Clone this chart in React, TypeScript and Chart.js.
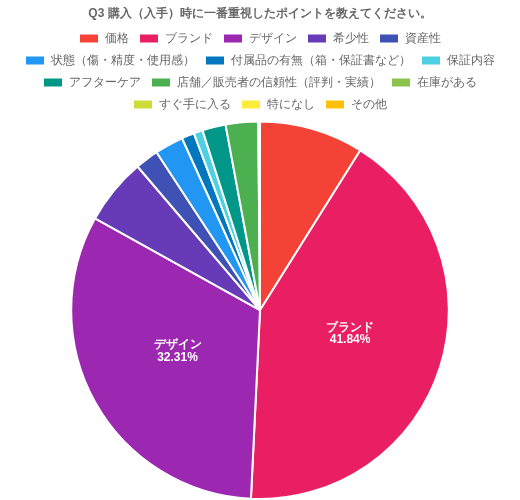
import React, { useEffect, useRef } from "react";
import { Chart, registerables } from "chart.js";

Chart.register(...registerables);

const categories = [
  "価格",
  "ブランド",
  "デザイン",
  "希少性",
  "資産性",
  "状態（傷・精度・使用感）",
  "付属品の有無（箱・保証書など）",
  "保証内容",
  "アフターケア",
  "店舗／販売者の信頼性（評判・実績）",
  "在庫がある",
  "すぐ手に入る",
  "特になし",
  "その他",
];

const percents = [8.92, 41.84, 32.31, 5.69, 2.0, 2.46, 1.08, 0.77, 2.0, 2.77, 0, 0, 0.15, 0];

const colors = [
  "#F44336",
  "#E91E63",
  "#9C27B0",
  "#673AB7",
  "#3F51B5",
  "#2196F3",
  "#0277BD",
  "#4DD0E1",
  "#009688",
  "#4CAF50",
  "#8BC34A",
  "#CDDC39",
  "#FFEB3B",
  "#FFC107",
];

const titleText = "Q3 購入（入手）時に一番重視したポイントを教えてください。";
const labelThreshold = 10;

const FONT = "'Helvetica Neue', 'Helvetica', 'Arial', sans-serif";

const sliceLabelPlugin = {
  id: "sliceLabels",
  afterDatasetsDraw(chart: any) {
    const ctx = chart.ctx;
    const meta = chart.getDatasetMeta(0);
    const data = chart.data.datasets[0].data as number[];
    ctx.save();
    ctx.fillStyle = "#ffffff";
    ctx.textAlign = "center";
    ctx.textBaseline = "middle";
    ctx.font = `bold 12px ${FONT}`;
    meta.data.forEach((arc: any, i: number) => {
      const v = data[i];
      if (v < labelThreshold) return;
      const p = arc.getCenterPoint();
      const lines = [String(chart.data.labels[i]), v.toFixed(2) + "%"];
      const lh = 12.5;
      const y0 = p.y - ((lines.length - 1) * lh) / 2 - 5;
      lines.forEach((t, k) => ctx.fillText(t, p.x, y0 + k * lh));
    });
    ctx.restore();
  },
};

export default function App() {
  const ref = useRef<HTMLCanvasElement | null>(null);
  useEffect(() => {
    if (!ref.current) return;
    const chart = new Chart(ref.current, {
      type: "pie",
      data: {
        labels: categories,
        datasets: [
          {
            data: percents,
            backgroundColor: colors,
            borderColor: "#ffffff",
            borderWidth: 2,
          },
        ],
      },
      options: {
        animation: false,
        responsive: true,
        maintainAspectRatio: false,
        layout: { padding: 0 },
        plugins: {
          title: {
            display: true,
            text: titleText,
            color: "#666666",
            font: { family: FONT, size: 12, weight: "bold" },
            padding: { top: 6, bottom: 2 },
          },
          legend: {
            position: "top",
            labels: {
              boxWidth: 20,
              boxHeight: 10,
              color: "#666666",
              font: { family: FONT, size: 12 },
              padding: 10,
            },
          },
          tooltip: { enabled: false },
        },
      },
      plugins: [sliceLabelPlugin],
    });
    return () => chart.destroy();
  }, []);
  return (
    <div style={{ position: "fixed", left: 0, top: 0, width: 520, height: 500, background: "#fff" }}>
      <canvas ref={ref} />
    </div>
  );
}
